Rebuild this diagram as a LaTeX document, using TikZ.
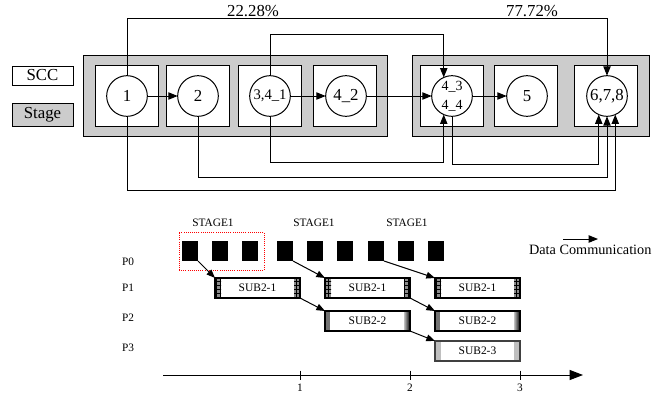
\documentclass[tikz,border=0pt]{standalone}
\usepackage{fontspec}
\setmainfont{Liberation Serif}
\usetikzlibrary{arrows.meta,patterns,calc}
\begin{document}
\begin{tikzpicture}[x=0.75pt,y=-0.75pt,
  every node/.style={inner sep=0pt, outer sep=0pt},
  bigfont/.style={font=\fontsize{12.6}{14}\selectfont},
  legbox/.style={draw=black, line width=0.75pt, minimum width=45.75pt, bigfont},
  stagebox/.style={draw=black, fill=black!20, line width=0.75pt, minimum height=60.75pt},
  sccbox/.style={draw=black, fill=white, line width=0.75pt, minimum width=47.25pt, minimum height=45.75pt},
  circ/.style={circle, draw=black, fill=white, line width=0.75pt, minimum size=30.5pt, bigfont},
  arr/.style={line width=0.75pt, -{Triangle[length=7pt,width=5.5pt]}},
  stagelbl/.style={font=\fontsize{8.5}{10}\selectfont},
  plbl/.style={font=\fontsize{8.5}{10}\selectfont},
  sq/.style={fill=black, minimum width=12pt, minimum height=15pt},
  subbox/.style={draw=black, fill=white, line width=0.9pt, minimum width=63.75pt, minimum height=15pt, font=\fontsize{8.6}{10}\selectfont},
  larr/.style={line width=0.75pt, -{Triangle[length=6.5pt,width=5pt]}},
  axarr/.style={line width=0.75pt, -{Triangle[length=10pt,width=7.5pt]}},
  ticklbl/.style={font=\fontsize{8.5}{10}\selectfont}
]
\useasboundingbox (0,0) rectangle (652,397);

% ---------- top part ----------
\node[legbox, fill=white, minimum height=14.25pt] (scc) at (42.5,75.5) {SCC};
\node[legbox, fill=black!20, minimum height=17.25pt] (stg) at (42.5,114.5) {Stage};

\node[stagebox, minimum width=228pt] (g1) at (235,95.5) {};
\node[stagebox, minimum width=177.75pt] (g2) at (530.5,95.5) {};
\foreach \n/\x in {b1/126.5, b2/197.5, b3/270, b4/345, b5/452, b6/526, b7/606}
  \node[sccbox] (\n) at (\x,95.5) {};

\node[circ] (c1) at (127,96) {1};
\node[circ] (c2) at (198,96) {2};
\node[circ, font=\fontsize{11}{12}\selectfont] (c3) at (270,96) {3,4\_1};
\node[circ] (c4) at (346,96) {4\_2};
\node[circ, font=\fontsize{10.5}{14}\selectfont, align=center] (c5) at (452,96) {4\_3\\4\_4};
\node[circ] (c6) at (527,96) {5};
\node[circ] (c7) at (607,96) {6,7,8};

\coordinate (ya) at (0,18);
\coordinate (yb) at (0,34);
\coordinate (yc) at (0,162);
\coordinate (yd) at (0,164);
\coordinate (ye) at (0,177);
\coordinate (yf) at (0,190);

\draw[arr] (c1) -- (c2);
\draw[arr] (c3) -- (c4);
\draw[arr] (c4) -- (c5);
\draw[arr] (c5) -- (c6);

\draw[arr] (c1.north) -- (c1.north |- ya) -- (c7.north |- ya) -- (c7.north);
\draw[arr] (c3.north) -- (c3.north |- yb) -- (c5.114 |- yb) -- (c5.114);
\draw[arr] (c3.south) -- (c3.south |- yc) -- (c5.246 |- yc) -- (c5.246);
\draw[arr] (c5.south) -- (c5.south |- yd) -- (c7.246 |- yd) -- (c7.246);
\draw[arr] (c2.south) -- (c2.south |- ye) -- (c7.south |- ye) -- (c7.south);
\draw[arr] (c1.south) -- (c1.south |- yf) -- (c7.294 |- yf) -- (c7.294);

\node[bigfont, anchor=base] (pa) at (253,16.5) {22.28\%};
\node[bigfont, anchor=base] (pb) at (532,16.5) {77.72\%};

% ---------- bottom part ----------
\node[stagelbl] (t1) at (213,223) {STAGE1};
\node[stagelbl] (t2) at (314,223) {STAGE1};
\node[stagelbl] (t3) at (407,223) {STAGE1};

\node[draw=red, densely dotted, line width=0.6pt, minimum width=63.75pt, minimum height=28.5pt] (redbox) at (221.5,251) {};

\foreach \i/\x in {1/190, 2/220, 3/250, 4/285, 5/315, 6/345, 7/376, 8/406, 9/436}
  \node[sq] (s\i) at (\x,251) {};

\node[plbl] (P0) at (128,262) {P0};
\node[plbl] (P1) at (128,288) {P1};
\node[plbl] (P2) at (128,318) {P2};
\node[plbl] (P3) at (128,348) {P3};

\node[subbox] (q11) at (257.5,288) {SUB2-1};
\node[subbox] (q12) at (367.5,288) {SUB2-1};
\node[subbox] (q13) at (477.5,288) {SUB2-1};
\node[subbox, line width=1.2pt] (q22) at (367.5,321) {SUB2-2};
\node[subbox, line width=1.2pt] (q23) at (477.5,321) {SUB2-2};
\node[subbox, draw=black!75] (q3) at (477.5,351) {SUB2-3};

\foreach \n in {q11,q12,q13} {
  \fill[black!45] (\n.north west) rectangle ($(\n.south west)+(6,0)$);
  \fill[pattern=grid, pattern color=black] (\n.north west) rectangle ($(\n.south west)+(6,0)$);
  \fill[black!45] ($(\n.north east)+(-6,0)$) rectangle (\n.south east);
  \fill[pattern=grid, pattern color=black] ($(\n.north east)+(-6,0)$) rectangle (\n.south east);
  \draw[line width=0.9pt] (\n.north west) rectangle (\n.south east);
}
\foreach \n in {q22,q23} {
  \fill[black!55] (\n.north west) rectangle ($(\n.south west)+(5,0)$);
  \shade[left color=black!25, right color=black] ($(\n.north east)+(-6,0)$) rectangle (\n.south east);
  \draw[line width=1.2pt] (\n.north west) rectangle (\n.south east);
}
\fill[black!25] (q3.north west) rectangle ($(q3.south west)+(6,0)$);
\fill[black!25] ($(q3.north east)+(-6,0)$) rectangle (q3.south east);
\draw[line width=0.9pt, black!75] (q3.north west) rectangle (q3.south east);

\draw[larr] (s1.south east) -- (q11.north west);
\draw[larr] (s4.south east) -- (q12.north west);
\draw[larr] (s7.south east) -- (q13.north west);
\draw[larr] (q11.south east) -- (q22.north west);
\draw[larr] (q12.south east) -- (q23.north west);
\draw[larr] (q22.south east) -- (q3.north west);

\coordinate (ax0) at (163,375);
\coordinate (ax1) at (583,375);
\draw[axarr] (ax0) -- (ax1);
\foreach \x/\l in {300/1, 410/2, 520/3} {
  \draw[line width=0.75pt] (\x,370.5) -- (\x,379.5);
  \node[ticklbl] (tick\l) at (\x,388) {\l};
}

\coordinate (lg0) at (563,239);
\coordinate (lg1) at (598,239);
\draw[arr] (lg0) -- (lg1);
\node[font=\fontsize{10.7}{12}\selectfont, anchor=west] (dc) at (529,250) {Data Communication};
\end{tikzpicture}
\end{document}
